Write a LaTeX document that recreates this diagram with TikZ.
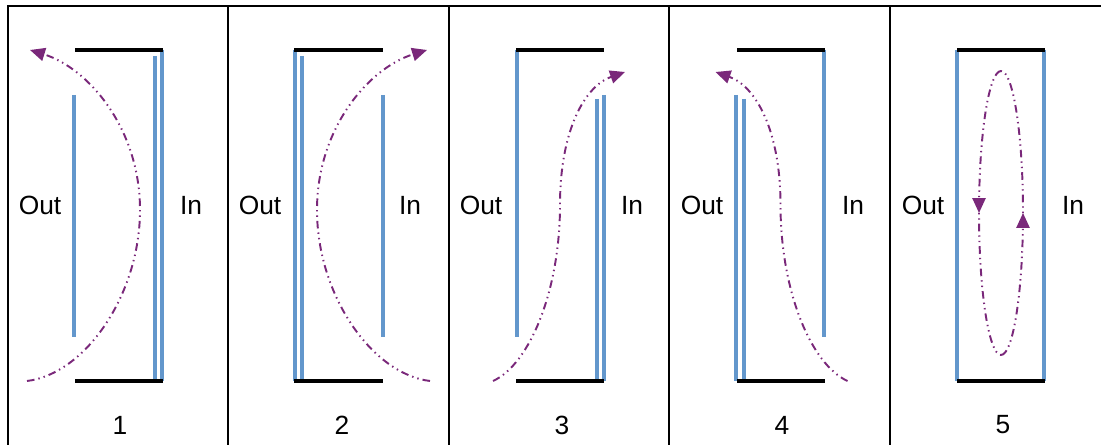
\documentclass[tikz,border=0pt]{standalone}
\usepackage{fontspec}
\setmainfont{Liberation Sans}
\usetikzlibrary{arrows.meta, positioning, decorations.markings}
\definecolor{membblue}{RGB}{99,151,204}
\definecolor{flowpurple}{RGB}{122,40,122}

\begin{document}
\begin{tikzpicture}[
			x=0.02cm, y=-0.02cm,
			frame/.style={line width=1.2pt, black},
			wall/.style={line width=2.6pt, black},
			memb/.style={line width=2.6pt, membblue},
			flow/.style={line width=1.1pt, flowpurple, dash pattern=on 4.3pt off 2.3pt on 0.8pt off 2.3pt on 0.8pt off 2.3pt, -{Triangle[length=8.5pt, width=7.5pt]}},
			cyc/.style={line width=1.1pt, flowpurple, dash pattern=on 4.3pt off 2.3pt on 0.8pt off 2.3pt on 0.8pt off 2.3pt, postaction={decorate}, decoration={markings, mark=at position 0.5 with {\arrow{Triangle[length=8.5pt, width=7.5pt]}}}},
			txt/.style={font=\fontsize{15}{18}\selectfont, inner sep=0pt}
			]
			\useasboundingbox (0,0) rectangle (1101,445);
			% frame
			\draw[frame] (8,445) -- (8,6) -- (1101,6);
			\foreach \x in {228,449,669,890}
				\draw[frame] (\x,6) -- (\x,445);
			% panel 1
			\draw[memb] (74,95) -- (74,337);
			\draw[memb] (155,56) -- (155,381);
			\draw[memb] (162,50) -- (162,381);
			\draw[wall] (75,50) -- (163,50);
			\draw[wall] (75,381) -- (163,381);
			\coordinate (s1) at (27,381);
			\coordinate (m1) at (140,210);
			\coordinate (e1) at (30,50);
			\draw[flow] (s1) .. controls (85,374) and (140,295) .. (m1) .. controls (140,128) and (88,68) .. (e1);
			\node[txt] (out1) at (40,205) {Out};
			\node[txt] (in1) at (191,205) {In};
			\node[txt] (n1) at (120,425) {1};
			% panel 2
			\draw[memb] (295,50) -- (295,381);
			\draw[memb] (302,56) -- (302,381);
			\draw[memb] (383,95) -- (383,337);
			\draw[wall] (294,50) -- (383,50);
			\draw[wall] (294,381) -- (383,381);
			\coordinate (s2) at (430,381);
			\coordinate (m2) at (317,210);
			\coordinate (e2) at (427,50);
			\draw[flow] (s2) .. controls (372,374) and (317,295) .. (m2) .. controls (317,128) and (369,68) .. (e2);
			\node[txt] (out2) at (260,205) {Out};
			\node[txt] (in2) at (410,205) {In};
			\node[txt] (n2) at (342,425) {2};
			% panel 3
			\draw[memb] (517,50) -- (517,337);
			\draw[memb] (597,99) -- (597,381);
			\draw[memb] (604,95) -- (604,381);
			\draw[wall] (516,50) -- (604,50);
			\draw[wall] (516,381) -- (604,381);
			\coordinate (s3) at (493,381);
			\coordinate (m3) at (560,205);
			\coordinate (e3) at (625,72);
			\draw[flow] (s3) .. controls (530,364) and (560,290) .. (m3) .. controls (560,130) and (585,86) .. (e3);
			\node[txt] (out3) at (481,205) {Out};
			\node[txt] (in3) at (632,205) {In};
			\node[txt] (n3) at (562,425) {3};
			% panel 4
			\draw[memb] (736,95) -- (736,381);
			\draw[memb] (744,99) -- (744,381);
			\draw[memb] (824,50) -- (824,337);
			\draw[wall] (737,50) -- (825,50);
			\draw[wall] (737,381) -- (825,381);
			\coordinate (s4) at (847.5,381);
			\coordinate (m4) at (780.5,205);
			\coordinate (e4) at (715.5,72);
			\draw[flow] (s4) .. controls (810.5,364) and (780.5,290) .. (m4) .. controls (780.5,130) and (755.5,86) .. (e4);
			\node[txt] (out4) at (702,205) {Out};
			\node[txt] (in4) at (853,205) {In};
			\node[txt] (n4) at (782,425) {4};
			% panel 5
			\draw[memb] (957,50) -- (957,381);
			\draw[memb] (1044,50) -- (1044,381);
			\draw[wall] (957,50) -- (1045,50);
			\draw[wall] (957,381) -- (1045,381);
			\coordinate (t5) at (1001,71);
			\coordinate (b5) at (1001,355);
			\draw[cyc] (t5) arc[start angle=270, end angle=90, x radius=22, y radius=142];
			\draw[cyc] (b5) arc[start angle=90, end angle=-90, x radius=22, y radius=142];
			\node[txt] (out5) at (923,205) {Out};
			\node[txt] (in5) at (1073,205) {In};
			\node[txt] (n5) at (1003,425) {5};
		\end{tikzpicture}
\end{document}
